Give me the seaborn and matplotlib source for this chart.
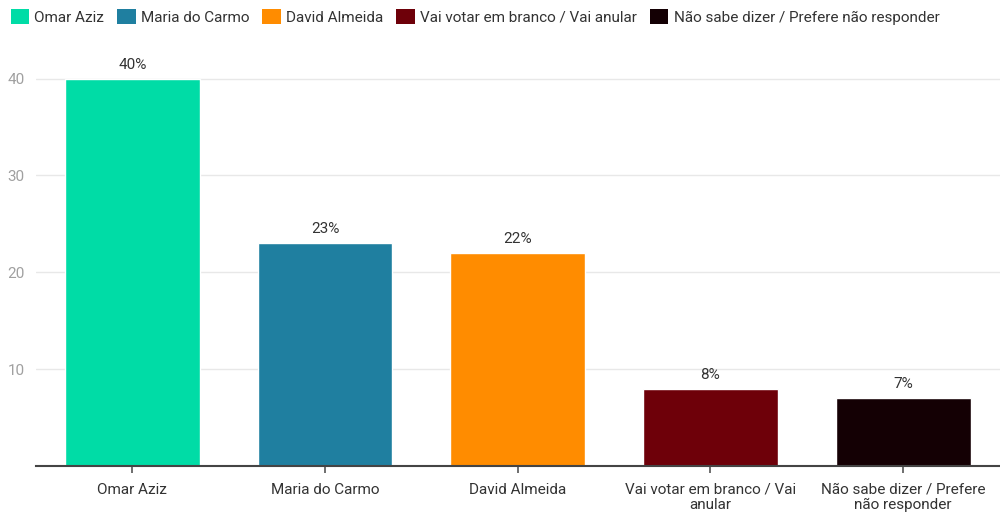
import numpy as np
import pandas as pd
import matplotlib
matplotlib.use("Agg")
import matplotlib.pyplot as plt
import seaborn as sns
from matplotlib.patches import Patch

# Data
candidates = ["Omar Aziz", "Maria do Carmo", "David Almeida",
              "Vai votar em branco / Vai anular",
              "Não sabe dizer / Prefere não responder"]
tick_labels = ["Omar Aziz", "Maria do Carmo", "David Almeida",
               "Vai votar em branco / Vai\nanular",
               "Não sabe dizer / Prefere\nnão responder"]
votes = [40, 23, 22, 8, 7]
colors = ["#00dca6", "#1f7fa0", "#ff8c00", "#6e0009", "#140004"]

df = pd.DataFrame({"Candidato": candidates, "Votos": votes})

sns.set_theme(style="white")
plt.rcParams["font.family"] = ["Roboto", "DejaVu Sans"]

fig = plt.figure(figsize=(10, 5.13), dpi=100)
ax = fig.add_axes([0.036, 0.0916, 0.9635, 0.81])

sns.barplot(data=df, x="Candidato", y="Votos", hue="Candidato",
            palette=colors, width=0.7, saturation=1, legend=False, ax=ax)

ax.set_xlim(-0.5, 4.5)
ax.set_ylim(0, 42.9)
ax.set_yticks([10, 20, 30, 40])
ax.yaxis.grid(True, color="#e8e8e8", linewidth=1)
ax.set_axisbelow(True)
ax.tick_params(axis="y", length=0, labelsize=11, labelcolor="#a0a0a0", pad=8)
ax.tick_params(axis="x", length=5, width=1.2, color="#555555", direction="out",
               labelsize=11, labelcolor="#333333", pad=7, bottom=True)
ax.set_xticks(range(len(tick_labels)))
ax.set_xticklabels(tick_labels, linespacing=1.08)
ax.set_xlabel("")
ax.set_ylabel("")

for s in ["top", "right", "left"]:
    ax.spines[s].set_visible(False)
ax.spines["bottom"].set_color("#444444")
ax.spines["bottom"].set_linewidth(1.5)

# value labels
for i, v in enumerate(votes):
    ax.annotate(f"{v}%", (i, v), xytext=(0, 5), textcoords="offset points",
                ha="center", va="bottom", fontsize=11, color="#333333")

# legend on top
handles = [Patch(facecolor=c, edgecolor="none") for c in colors]
fig.legend(handles, candidates, loc="upper left", bbox_to_anchor=(-0.003, 1.01),
           ncol=5, frameon=False, fontsize=11, handlelength=1.2,
           handleheight=1.2, handletextpad=0.35, columnspacing=0.85,
           labelcolor="#333333")

fig.savefig("out.png", dpi=100)
